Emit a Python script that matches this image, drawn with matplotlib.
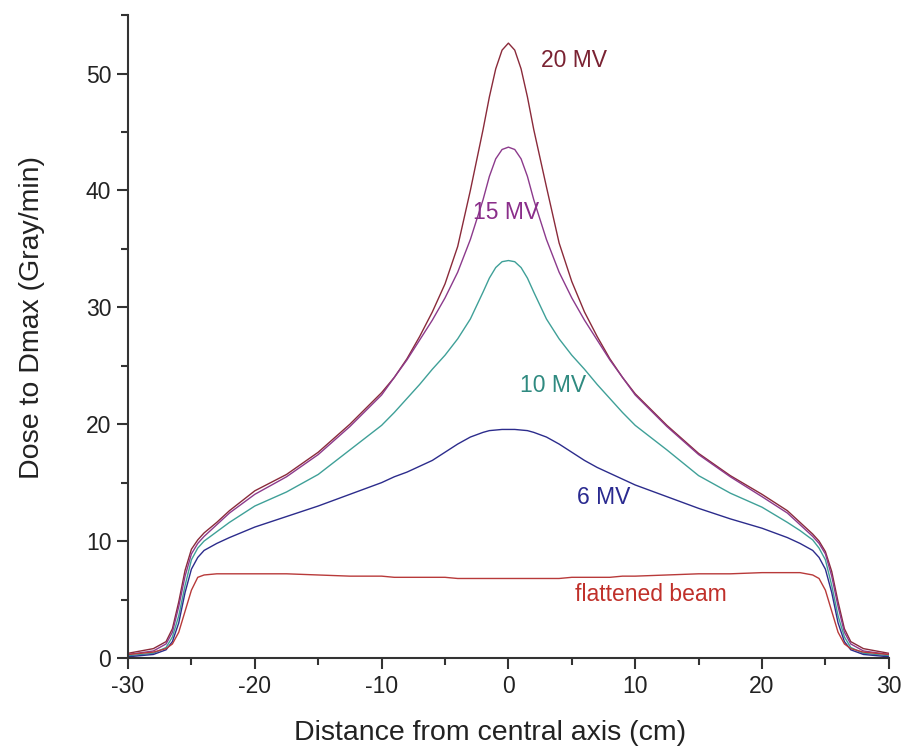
import matplotlib
matplotlib.use("Agg")
import matplotlib.pyplot as plt
from matplotlib.ticker import MultipleLocator

plt.rcParams['font.family'] = ['Liberation Sans', 'DejaVu Sans']

# distance from central axis (cm)
x = [-30, -28, -27, -26.5, -26, -25.5, -25, -24.5, -24, -23, -22, -20, -17.5, -15, -12.5, -10,
     -9, -8, -7, -6, -5, -4, -3, -2, -1.5, -1, -0.5, 0, 0.5, 1, 1.5, 2, 3, 4, 5, 6, 7, 8, 9,
     10, 12.5, 15, 17.5, 20, 22, 23, 24, 24.5, 25, 25.5, 26, 26.5, 27, 28, 30]

mv20 = [0.4, 0.8, 1.4, 2.5, 4.8, 7.5, 9.3, 10.1, 10.7, 11.6, 12.6, 14.3, 15.7, 17.6, 20.0, 22.7,
        24.0, 25.6, 27.5, 29.6, 32.0, 35.2, 40.0, 45.2, 48.0, 50.4, 52.0, 52.6, 52.0, 50.4, 48.0, 45.2, 40.3, 35.5, 32.2, 29.6, 27.5, 25.6, 24.0,
        22.6, 19.9, 17.5, 15.6, 14.0, 12.6, 11.6, 10.6, 10.0, 9.1, 7.4, 4.8, 2.5, 1.4, 0.8, 0.4]

mv15 = [0.3, 0.6, 1.2, 2.2, 4.4, 7.0, 8.9, 9.8, 10.4, 11.4, 12.4, 14.0, 15.5, 17.4, 19.8, 22.5,
        24.0, 25.5, 27.2, 28.9, 30.8, 33.0, 35.8, 39.2, 41.2, 42.7, 43.5, 43.7, 43.5, 42.7, 41.2, 39.2, 35.8, 33.0, 30.8, 28.9, 27.2, 25.5, 24.0,
        22.5, 19.8, 17.4, 15.5, 13.8, 12.4, 11.4, 10.4, 9.8, 8.9, 7.0, 4.4, 2.2, 1.2, 0.6, 0.3]

mv10 = [0.2, 0.4, 0.9, 1.8, 3.6, 6.2, 8.4, 9.4, 10.0, 10.8, 11.6, 13.0, 14.2, 15.7, 17.8, 19.9,
        21.0, 22.2, 23.4, 24.7, 25.9, 27.3, 29.0, 31.3, 32.5, 33.4, 33.9, 34.0, 33.9, 33.4, 32.5, 31.3, 29.0, 27.3, 25.9, 24.7, 23.4, 22.2, 21.0,
        19.9, 17.8, 15.6, 14.1, 12.9, 11.6, 10.9, 10.1, 9.4, 8.4, 6.2, 3.6, 1.8, 0.9, 0.4, 0.2]

mv6 = [0.1, 0.3, 0.7, 1.4, 3.0, 5.6, 7.6, 8.6, 9.2, 9.8, 10.3, 11.2, 12.1, 13.0, 14.0, 15.0,
       15.5, 15.9, 16.4, 16.9, 17.6, 18.3, 18.9, 19.3, 19.45, 19.5, 19.55, 19.55, 19.55, 19.5, 19.45, 19.3, 18.9, 18.3, 17.6, 16.9, 16.3, 15.8, 15.3,
       14.8, 13.8, 12.8, 11.9, 11.1, 10.3, 9.8, 9.2, 8.6, 7.6, 5.6, 3.0, 1.4, 0.7, 0.3, 0.1]

flat = [0.3, 0.5, 0.8, 1.2, 2.2, 4.0, 5.8, 6.9, 7.1, 7.2, 7.2, 7.2, 7.2, 7.1, 7.0, 7.0,
        6.9, 6.9, 6.9, 6.9, 6.9, 6.8, 6.8, 6.8, 6.8, 6.8, 6.8, 6.8, 6.8, 6.8, 6.8, 6.8, 6.8, 6.8, 6.9, 6.9, 6.9, 6.9, 7.0,
        7.0, 7.1, 7.2, 7.2, 7.3, 7.3, 7.3, 7.1, 6.8, 5.8, 4.0, 2.2, 1.2, 0.8, 0.5, 0.3]

series = [
    ("20 MV", mv20, "#8a2a3a", "#7a2232", (2.6, 51.1)),
    ("15 MV", mv15, "#8c3a8c", "#8a2e8a", (-2.8, 38.1)),
    ("10 MV", mv10, "#3fa098", "#2f8a80", (0.9, 23.3)),
    ("6 MV", mv6, "#2c2c8c", "#2a2a90", (5.4, 13.7)),
    ("flattened beam", flat, "#b83a3a", "#c0302a", (5.25, 5.4)),
]

fig = plt.figure(figsize=(9.06, 7.53), dpi=100)
ax = fig.add_axes([0.1413, 0.1262, 0.8397, 0.8538])

for name, vals, lc, tc, pos in series:
    ax.plot(x, vals, color=lc, lw=1.0)
    ax.text(pos[0], pos[1], name, color=tc, fontsize=16.5, va='center', ha='left')

ax.set_xlim(-30, 30)
ax.set_ylim(0, 55)
ax.xaxis.set_major_locator(MultipleLocator(10))
ax.xaxis.set_minor_locator(MultipleLocator(5))
ax.yaxis.set_major_locator(MultipleLocator(10))
ax.yaxis.set_minor_locator(MultipleLocator(5))
ax.set_xticks([-30, -20, -10, 0, 10, 20, 30])
ax.set_xticklabels(["-30", "-20", "-10", "0", "10", "20", "30"])

for s in ["top", "right"]:
    ax.spines[s].set_visible(False)
for s in ["left", "bottom"]:
    ax.spines[s].set_linewidth(1.5)
    ax.spines[s].set_color("#333333")

ax.tick_params(which='major', direction='out', length=8, width=1.5, color="#333333",
               labelsize=16.5, pad=4, labelcolor="#222222")
ax.tick_params(which='minor', direction='out', length=5, width=1.5, color="#333333")

ax.set_xlabel("Distance from central axis (cm)", fontsize=20.5, color="#222222", va='center', ha='center')
ax.set_ylabel("Dose to Dmax (Gray/min)", fontsize=20.5, color="#222222", va='center', ha='center')
ax.xaxis.set_label_coords(0.476, -0.1166)
ax.yaxis.set_label_coords(-0.126, 0.529)

fig.savefig("out.png", dpi=100)
